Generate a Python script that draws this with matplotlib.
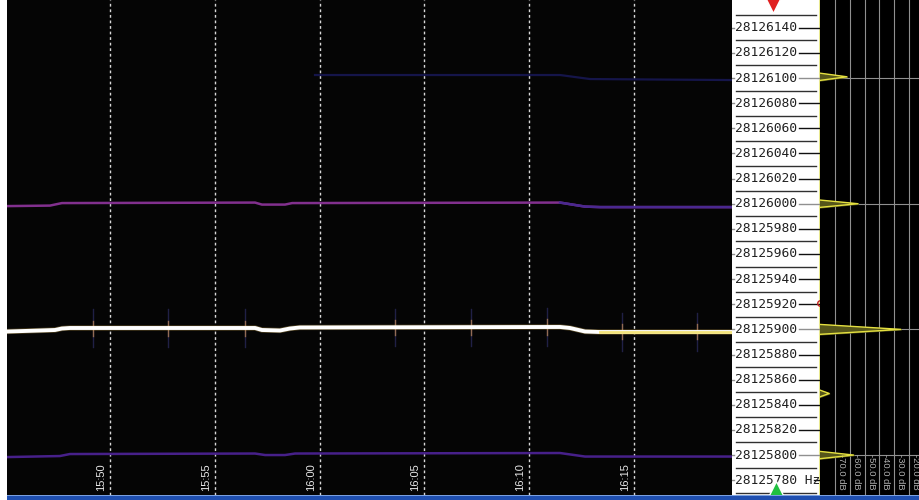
import matplotlib.pyplot as plt
from matplotlib.patches import Rectangle
from matplotlib.transforms import blended_transform_factory

# time in minutes after 15:45
tick_minutes = [5, 10, 15, 20, 25, 30]
tick_labels = ['15:50', '15:55', '16:00', '16:05', '16:10', '16:15']

# strong carrier (white trace)
main_t = [0.13, 1.66, 2.38, 2.71, 3.09, 11.92, 12.25, 13.11, 13.59, 14.06, 26.47, 26.94, 27.66, 28.38, 34.67]
main_f = [28125898.3, 28125899.1, 28125899.5, 28125900.7, 28125901.1, 28125901.1, 28125899.5, 28125899.1,
          28125900.7, 28125901.5, 28125901.9, 28125901.1, 28125898.3, 28125897.9, 28125897.9]

# purple trace near 28126000
up_t = [0.13, 2.14, 2.71, 11.92, 12.25, 13.35, 13.69, 26.47, 27.66, 28.38, 34.67]
up_f = [28125998.1, 28125998.5, 28126000.5, 28126000.9, 28125999.3, 28125999.3, 28126000.5,
        28126000.9, 28125997.7, 28125997.3, 28125997.3]

# purple trace near 28125800
low_t = [0.13, 2.61, 3.09, 11.92, 12.40, 13.35, 13.83, 26.47, 27.66, 34.67]
low_f = [28125798.4, 28125799.2, 28125800.8, 28125801.2, 28125800.0, 28125800.0, 28125801.2,
         28125801.6, 28125798.8, 28125798.8]

# faint blue trace near 28126100
top_t = [14.78, 26.47, 27.90, 34.67]
top_f = [28126102.4, 28126102.4, 28126099.2, 28126098.4]

# short flares on the carrier
flare_t = [4.19, 7.77, 11.45, 18.6, 22.2, 25.86, 29.44, 33.02]
flare_f = [28125901, 28125901, 28125901, 28125901.5, 28125901.5, 28125901.9, 28125898, 28125898]

# frequency scale
freq_ticks = list(range(28125780, 28126141, 20))
marker_freqs = [28126100, 28126000, 28125900, 28125800]

# spectrum panel
db_ticks = [-70, -60, -50, -40, -30, -20]
spec_f = [28126162, 28126104, 28126101, 28126098, 28126003, 28126000, 28125997, 28125904, 28125900,
          28125896, 28125852, 28125849, 28125846, 28125803, 28125800, 28125797, 28125768]
spec_db = [-81, -81, -62, -81, -81, -54.5, -81, -81, -25.5, -81, -81, -74, -81, -81, -57.5, -81, -81]

W, H = 919, 500
ylim = (28125768.2, 28126162.1)

fig = plt.figure(figsize=(W / 100, H / 100), dpi=100, facecolor='white')

# main waterfall
ax = fig.add_axes([7 / W, 5 / H, (732 - 7) / W, 495 / H])
ax.set_facecolor('#050505')
ax.set_xlim(0.09, 34.67)
ax.set_ylim(*ylim)
for s in ax.spines.values():
    s.set_visible(False)
ax.set_xticks([])
ax.set_yticks([])

for t in tick_minutes:
    ax.axvline(t, color='#d8d8d8', lw=1, ls=(0, (2, 2)), zorder=1)

trans = blended_transform_factory(ax.transData, ax.transAxes)
for t, lab in zip(tick_minutes, tick_labels):
    ax.annotate(lab, (t, 0.008), xycoords=trans, xytext=(-4, 0), textcoords='offset pixels',
                rotation=90, ha='right', va='bottom', color='#e8e8e8',
                fontsize=8, family='Liberation Sans')

ax.plot(top_t, top_f, color='#15154a', lw=1.6, zorder=2)
ax.plot(up_t, up_f, color='#82308e', lw=1.8, zorder=2)
ax.plot(up_t[7:], up_f[7:], color='#4a2890', lw=1.8, zorder=2)
ax.plot(low_t, low_f, color='#47208a', lw=1.8, zorder=2)

for t, f in zip(flare_t, flare_f):
    ax.plot([t, t], [f - 15, f + 15], color='#5555c0', lw=1, alpha=0.35, zorder=2)
    ax.plot([t, t], [f - 6, f + 6], color='#e0a060', lw=1, alpha=0.6, zorder=2)

ax.plot(main_t, main_f, color='#d8b050', lw=3.8, alpha=0.35, zorder=3)
ax.plot(main_t, main_f, color='white', lw=2.8, zorder=4)
ax.plot(main_t[13:], main_f[13:], color='#f3e37a', lw=2, zorder=5)

# frequency label panel
lax = fig.add_axes([732 / W, 5 / H, 88 / W, 495 / H])
lax.set_facecolor('white')
lax.set_xlim(0, 1)
lax.set_ylim(*ylim)
lax.set_xticks([])
lax.set_yticks([])
for s in lax.spines.values():
    s.set_visible(False)
lax.axvline(1, color='#e8e890', lw=1.5)

for f in freq_ticks:
    lab = str(f)
    x_end = 0.76
    if f == freq_ticks[0]:
        lab += ' Hz'
        x_end = 0.93
    lax.text(0.03, f, lab, ha='left', va='center', fontsize=9.3, family='DejaVu Sans Mono', color='#202020')
    col = '#909090' if f in marker_freqs else '#101010'
    lax.plot([x_end, 1], [f, f], color=col, lw=1)
    lax.plot([0, 0.025], [f, f], color='#909090', lw=1)
    lax.plot([0.04, 0.96], [f + 10, f + 10], color='#303030', lw=1)
lax.plot([0.04, 0.96], [freq_ticks[0] - 10] * 2, color='#303030', lw=1)

lax.plot([0.47], [0.99], transform=lax.transAxes, marker='v', ms=12, color='#e02020',
         mec='white', mew=1, clip_on=False, zorder=6)
lax.plot([1.0], [28125921], marker='o', ms=4, mfc='none', mec='#c02020', mew=1, clip_on=False)

# spectrum panel
sax = fig.add_axes([820 / W, 5 / H, 99 / W, 495 / H])
sax.set_facecolor('black')
sax.set_xlim(-80.2, -13.2)
sax.set_ylim(*ylim)
sax.set_xticks([])
sax.set_yticks([])
for s in sax.spines.values():
    s.set_visible(False)
for d in db_ticks:
    sax.axvline(d, color='#909090', lw=0.8)
for f in marker_freqs:
    sax.axhline(f, color='#909090', lw=0.8)
sax.fill_betweenx(spec_f, -90, spec_db, color='#55551a', zorder=3)
sax.plot(spec_db, spec_f, color='#e4e040', lw=1, zorder=4)
strans = blended_transform_factory(sax.transData, sax.transAxes)
for d in db_ticks:
    sax.annotate(f'{d:.1f} dB', (d, 0.01), xycoords=strans, xytext=(2, 0), textcoords='offset pixels',
                 rotation=-90, ha='left', va='bottom', color='#b0b0b0', fontsize=6.8,
                 family='Liberation Sans')

# bottom status bar
fig.add_artist(Rectangle((7 / W, 0), 1 - 7 / W, 5 / H, transform=fig.transFigure,
                         facecolor='#1f4fb0', edgecolor='none'))
fig.add_artist(Rectangle((7 / W, 4 / H), 1 - 7 / W, 1.5 / H, transform=fig.transFigure,
                         facecolor='#7aa0e0', edgecolor='none'))
lax.plot([0.5], [0.012], transform=lax.transAxes, marker='^', ms=11, color='#20c040',
         mec='white', mew=1, clip_on=False, zorder=6)

fig.savefig('out.png', dpi=100, facecolor='white')
